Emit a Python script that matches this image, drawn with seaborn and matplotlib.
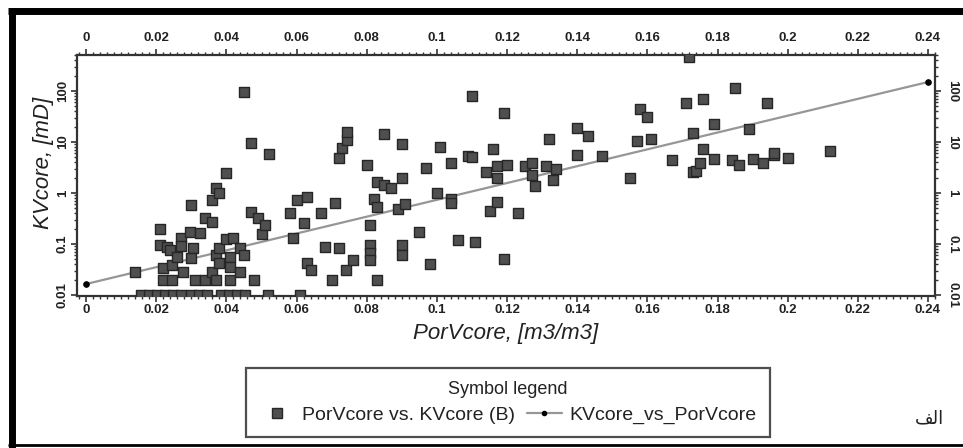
import numpy as np
import pandas as pd
import matplotlib
matplotlib.use("Agg")
import matplotlib.pyplot as plt
import seaborn as sns
from matplotlib.lines import Line2D
from matplotlib.ticker import FixedLocator, MultipleLocator, LogLocator, NullFormatter

# ---------------- data ----------------
por = [
    0.014, 0.021, 0.021, 0.023, 0.024, 0.022, 0.0245, 0.022, 0.0245, 0.026,
    0.027, 0.027, 0.0277, 0.0296, 0.030, 0.0305, 0.030, 0.031, 0.0325, 0.034,
    0.034, 0.036, 0.036, 0.036, 0.037, 0.038, 0.037, 0.037, 0.038, 0.038,
    0.040, 0.040, 0.041, 0.041, 0.041, 0.042, 0.044, 0.044, 0.045, 0.045,
    0.047, 0.047, 0.048, 0.049, 0.050, 0.051, 0.052,
    0.0157, 0.018, 0.0202, 0.0225, 0.0248, 0.0271, 0.0299, 0.0322, 0.0345,
    0.0385, 0.0408, 0.0431, 0.0453, 0.0519, 0.061,
    0.058, 0.059, 0.060, 0.062, 0.063, 0.063, 0.064, 0.067, 0.068, 0.070,
    0.071, 0.072, 0.072, 0.073, 0.0744, 0.0744, 0.074, 0.076, 0.080, 0.081,
    0.081, 0.081, 0.081, 0.082, 0.083, 0.083, 0.083, 0.085, 0.085, 0.087,
    0.089, 0.090, 0.090, 0.091, 0.090, 0.090, 0.095, 0.097, 0.098, 0.100,
    0.101, 0.104, 0.104, 0.104, 0.106, 0.109, 0.110, 0.110, 0.111, 0.114,
    0.115, 0.116, 0.117, 0.117, 0.117, 0.119, 0.119, 0.120, 0.123, 0.125,
    0.127, 0.127, 0.128, 0.131, 0.132, 0.133, 0.134, 0.140, 0.140, 0.143,
    0.147, 0.155, 0.157, 0.158, 0.160, 0.161, 0.167, 0.171, 0.172, 0.173,
    0.173, 0.174, 0.175, 0.176, 0.176, 0.179, 0.179, 0.184, 0.185, 0.186,
    0.189, 0.190, 0.193, 0.194, 0.196, 0.196, 0.200, 0.212,
]
kv = [
    0.028, 0.20, 0.095, 0.088, 0.076, 0.034, 0.039, 0.020, 0.020, 0.057,
    0.13, 0.09, 0.028, 0.17, 0.58, 0.085, 0.053, 0.020, 0.165, 0.32,
    0.020, 0.27, 0.73, 0.028, 1.25, 1.0, 0.06, 0.020, 0.085, 0.042,
    2.5, 0.125, 0.057, 0.035, 0.020, 0.13, 0.085, 0.028, 0.06, 95,
    9.5, 0.42, 0.020, 0.32, 0.16, 0.24, 5.8,
    0.01, 0.01, 0.01, 0.01, 0.01, 0.01, 0.01, 0.01, 0.01,
    0.01, 0.01, 0.01, 0.01, 0.01, 0.01,
    0.40, 0.13, 0.73, 0.26, 0.83, 0.042, 0.031, 0.40, 0.088, 0.020,
    0.63, 0.085, 4.9, 7.7, 11, 16, 0.031, 0.048, 3.5, 0.24,
    0.095, 0.066, 0.048, 0.75, 1.65, 0.53, 0.020, 14.4, 1.45, 1.25,
    0.49, 9.1, 2.0, 0.60, 0.095, 0.06, 0.17, 3.1, 0.041, 1.0,
    8.0, 3.9, 0.76, 0.64, 0.12, 5.3, 5.0, 80, 0.11, 2.6,
    0.45, 7.3, 3.4, 2.0, 0.66, 37, 0.05, 3.5, 0.41, 3.4,
    3.9, 2.25, 1.37, 3.4, 11.5, 1.8, 2.9, 18.7, 5.6, 13,
    5.3, 2.0, 10.5, 44, 31, 11.5, 4.4, 58, 466, 15,
    2.6, 2.7, 3.9, 70, 7.3, 23, 4.6, 4.4, 115, 3.5,
    18, 4.6, 3.9, 58, 5.6, 6.1, 4.8, 6.8,
]
fit_por = [0.0, 0.24]
fit_kv = [0.0165, 150.0]

x_ticks = [0, 0.02, 0.04, 0.06, 0.08, 0.1, 0.12, 0.14, 0.16, 0.18, 0.2, 0.22, 0.24]
x_tick_labels = ["0", "0.02", "0.04", "0.06", "0.08", "0.1", "0.12", "0.14",
                 "0.16", "0.18", "0.2", "0.22", "0.24"]
y_ticks = [0.01, 0.1, 1, 10, 100]
y_tick_labels = ["0.01", "0.1", "1", "10", "100"]

x_label = "PorVcore, [m3/m3]"
y_label = "KVcore, [mD]"
legend_title = "Symbol legend"
series_scatter = "PorVcore vs. KVcore (B)"
series_fit = "KVcore_vs_PorVcore"
corner_text = "\ufed2\ufedf\ufe8d"  # "الف" in visual (presentation) form

# ---------------- style ----------------
sns.set_style("ticks")
plt.rcParams["font.family"] = ["Liberation Sans", "DejaVu Sans"]

TXT = "#222222"
SQ_FACE = "#4f4f4f"
SQ_EDGE = "#262626"
LINE_C = "#969696"

fig = plt.figure(figsize=(9.63, 4.48), dpi=100)
ax = fig.add_axes([77 / 963, 1 - 296 / 448, (935 - 77) / 963, (296 - 55) / 448])

df_pts = pd.DataFrame({"por": por, "kv": kv})
df_fit = pd.DataFrame({"por": fit_por, "kv": fit_kv})

sns.lineplot(data=df_fit, x="por", y="kv", ax=ax, color=LINE_C, lw=1.6,
             marker="o", markersize=4, markerfacecolor="black",
             markeredgecolor="black", zorder=2, legend=False)
sns.scatterplot(data=df_pts, x="por", y="kv", ax=ax, marker="s", s=46,
                color=SQ_FACE, edgecolor=SQ_EDGE, linewidth=1.0,
                zorder=3, legend=False)

ax.set_yscale("log")
ax.set_xlim(-0.0026, 0.242)
ax.set_ylim(0.0096, 508)

ax.xaxis.set_major_locator(FixedLocator(x_ticks))
ax.set_xticklabels(x_tick_labels)
ax.xaxis.set_minor_locator(MultipleLocator(0.002))
ax.yaxis.set_major_locator(FixedLocator(y_ticks))
ax.set_yticklabels(y_tick_labels)
ax.yaxis.set_minor_locator(LogLocator(base=10, subs=np.arange(2, 10)))
ax.yaxis.set_minor_formatter(NullFormatter())

for sp in ax.spines.values():
    sp.set_color("#333333")
    sp.set_linewidth(1.6)
    sp.set_visible(True)

ax.tick_params(axis="both", which="major", direction="out", length=4,
               width=1.2, color="#333333", labelsize=9.5, pad=2,
               labelcolor=TXT)
ax.tick_params(axis="both", which="minor", direction="out", length=2,
               width=1.0, color="#333333")
ax.tick_params(axis="x", top=True, which="both")
ax.tick_params(axis="y", right=True, which="both")
ax.tick_params(axis="y", labelrotation=90)
for lbl in ax.get_yticklabels():
    lbl.set_va("center")
for lbl in ax.get_xticklabels() + ax.get_yticklabels():
    lbl.set_fontweight("bold")

# top and right duplicate labels
secx = ax.secondary_xaxis("top")
secx.xaxis.set_major_locator(FixedLocator(x_ticks))
secx.set_xticklabels(x_tick_labels)
secx.tick_params(length=0, labelsize=9.5, pad=8, labelcolor=TXT)
for lbl in secx.get_xticklabels():
    lbl.set_fontweight("bold")
secx.spines["top"].set_visible(False)

secy = ax.secondary_yaxis("right")
secy.set_yscale("log")
secy.yaxis.set_major_locator(FixedLocator(y_ticks))
secy.set_yticklabels(y_tick_labels)
secy.yaxis.set_minor_locator(FixedLocator([]))
secy.tick_params(length=0, labelsize=9.5, pad=8, labelrotation=-90,
                 labelcolor=TXT)
for lbl in secy.get_yticklabels():
    lbl.set_fontweight("bold")
    lbl.set_va("center")
secy.spines["right"].set_visible(False)

ax.set_xlabel(x_label, fontsize=16, style="italic", labelpad=5, color=TXT)
ax.set_ylabel(y_label, fontsize=16, style="italic", color=TXT)
ax.yaxis.set_label_coords(-0.027, 0.552)

# legend
h_sc = Line2D([], [], ls="none", marker="s", markersize=6.5,
              markerfacecolor=SQ_FACE, markeredgecolor=SQ_EDGE)
h_ln = Line2D([], [], color=LINE_C, lw=1.6, marker="o", markersize=3,
              markerfacecolor="black", markeredgecolor="black")
leg = fig.legend([h_sc, h_ln], [series_scatter, series_fit], title=legend_title,
                 ncol=2, loc="center",
                 bbox_to_anchor=(508 / 963, 1 - 402.5 / 448),
                 frameon=True, fancybox=False, fontsize=14,
                 title_fontsize=13, handlelength=1.8, handletextpad=0.38,
                 columnspacing=0.6, borderpad=0.68, labelspacing=0.4,
                 borderaxespad=0)
leg.get_frame().set_edgecolor("#222222")
leg.get_frame().set_linewidth(1.6)
for t in leg.get_texts():
    t.set_color(TXT)
leg.get_title().set_color(TXT)

fig.text(929 / 963, 1 - 418 / 448, corner_text, fontsize=13, ha="center",
         va="center", family=["DejaVu Sans"], color=TXT)

# screenshot frame
fig.add_artist(Line2D([8 / 963, 1.0], [1 - 11.5 / 448, 1 - 11.5 / 448],
                      transform=fig.transFigure, color="black", lw=5,
                      solid_capstyle="butt"))
fig.add_artist(Line2D([11.5 / 963, 11.5 / 963], [0, 1 - 8 / 448],
                      transform=fig.transFigure, color="black", lw=5,
                      solid_capstyle="butt"))
fig.add_artist(Line2D([8 / 963, 1.0], [3 / 448, 3 / 448],
                      transform=fig.transFigure, color="black", lw=2,
                      solid_capstyle="butt"))

fig.savefig("out.png", dpi=100, facecolor="white")
